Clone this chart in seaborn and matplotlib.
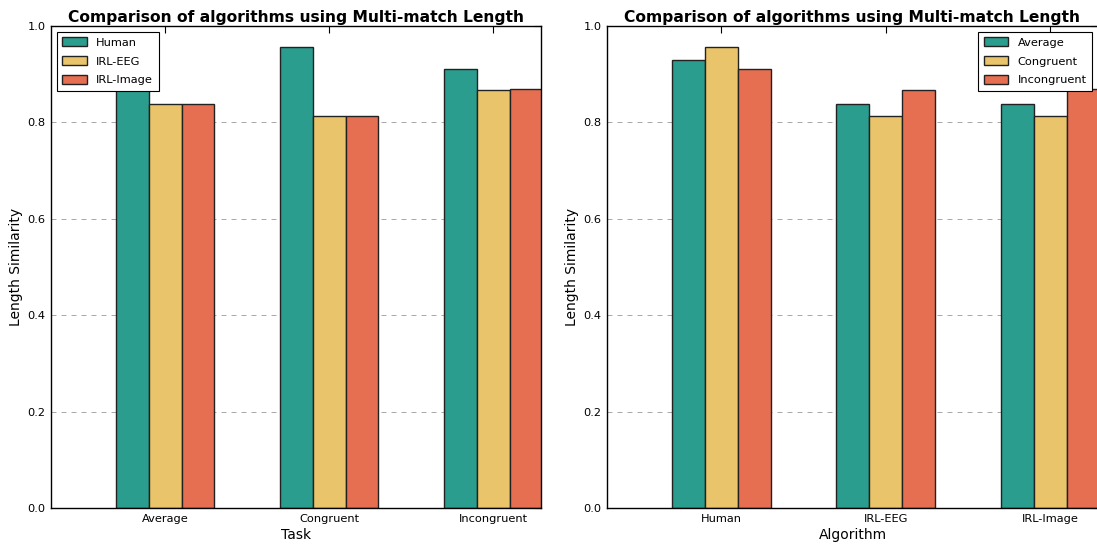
import numpy as np
import pandas as pd
import matplotlib
matplotlib.use("Agg")
import matplotlib.pyplot as plt
import seaborn as sns

# Multi-match length similarity per algorithm and task
algorithms = ["Human", "IRL-EEG", "IRL-Image"]
tasks = ["Average", "Congruent", "Incongruent"]
human = [0.929, 0.956, 0.910]
irl_eeg = [0.838, 0.813, 0.867]
irl_image = [0.838, 0.813, 0.869]
yticks = [0.0, 0.2, 0.4, 0.6, 0.8, 1.0]

colors = ["#2a9d8f", "#e9c46a", "#e76f51"]

rows = []
for alg, vals in zip(algorithms, [human, irl_eeg, irl_image]):
    for task, v in zip(tasks, vals):
        rows.append({"Algorithm": alg, "Task": task, "Length Similarity": v})
df = pd.DataFrame(rows)

sns.set_theme(style="white")
plt.rcParams["font.family"] = ["DejaVu Sans"]
plt.rcParams["text.color"] = "black"
plt.rcParams["axes.labelcolor"] = "black"

fig = plt.figure(figsize=(10.97, 5.44), dpi=100)
ax1 = fig.add_axes([51 / 1097, 36 / 544, 490 / 1097, 482 / 544])
ax2 = fig.add_axes([607 / 1097, 36 / 544, 491 / 1097, 482 / 544])


def draw(ax, x, hue, order, hue_order, xlabel, legend_loc):
    sns.barplot(data=df, x=x, y="Length Similarity", hue=hue, order=order,
                hue_order=hue_order, palette=colors, width=0.6,
                edgecolor="#222222", linewidth=1.0, saturation=1, ax=ax,
                errorbar=None, zorder=2)
    ax.set_xlim(-0.695, 2.29)
    ax.set_ylim(0, 1.0)
    ax.set_yticks(yticks)
    ax.set_yticklabels([f"{t:.1f}" for t in yticks])
    ax.yaxis.grid(True, linestyle=(0, (6, 6)), color="#999999", linewidth=0.6, zorder=0)
    ax.xaxis.grid(False)
    ax.set_axisbelow(True)
    ax.tick_params(direction="in", top=True, right=True, length=5, width=0.8,
                   labelsize=8.2, colors="black", pad=4)
    for s in ax.spines.values():
        s.set_color("black")
        s.set_linewidth(1.0)
    ax.set_title("Comparison of algorithms using Multi-match Length",
                 fontsize=11.2, fontweight="bold", pad=3, color="black")
    ax.set_xlabel(xlabel, fontsize=10, labelpad=3)
    ax.set_ylabel("Length Similarity", fontsize=10, labelpad=3)
    leg = ax.legend(loc=legend_loc, fontsize=8.2, frameon=True, fancybox=False,
                    edgecolor="black", framealpha=1, handlelength=2.15,
                    handleheight=0.8, handletextpad=0.8,
                    borderpad=0.5, labelspacing=0.75, borderaxespad=0.5)
    leg.get_frame().set_linewidth(0.8)


draw(ax1, "Task", "Algorithm", tasks, algorithms, "Task", "upper left")
draw(ax2, "Algorithm", "Task", algorithms, tasks, "Algorithm", "upper right")

fig.savefig("out.png", dpi=100)
